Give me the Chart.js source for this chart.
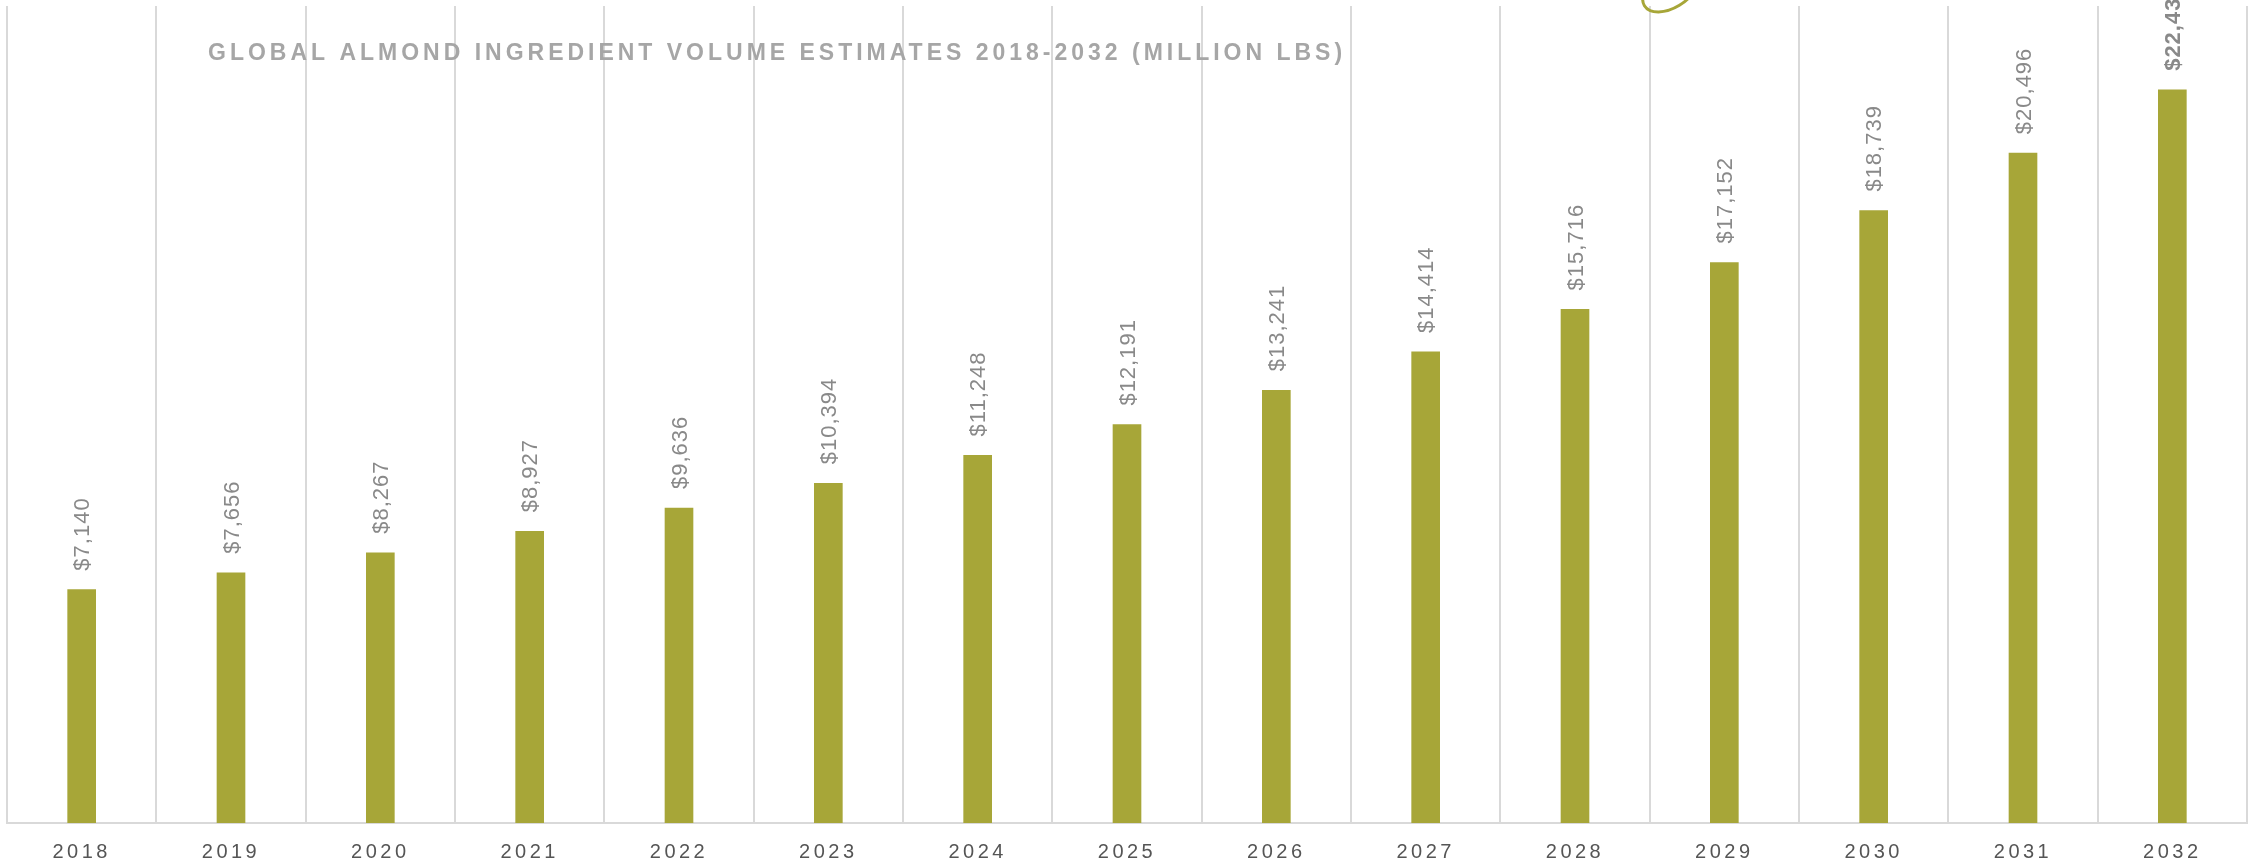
<!DOCTYPE html>
<html>
<head>
<meta charset="utf-8">
<script src="https://cdn.jsdelivr.net/npm/chart.js@4/dist/chart.umd.min.js"></script>
<style>
  html, body { margin: 0; padding: 0; background: #ffffff; }
  #wrap { width: 2259px; height: 865px; position: relative; }
</style>
</head>
<body>
<div id="wrap"><canvas id="chart" width="2259" height="865"></canvas></div>
<script>
// Years on the category axis
const years = ['2018', '2019', '2020', '2021', '2022', '2023', '2024', '2025',
               '2026', '2027', '2028', '2029', '2030', '2031', '2032'];
// Estimated ingredient volume per year (million lbs)
const volumes = [7140, 7656, 8267, 8927, 9636, 10394, 11248, 12191,
                 13241, 14414, 15716, 17152, 18739, 20496, 22434];
// Value axis range
const yRange = [0, 25000];
// Year whose value label is emphasised
const emphasisYears = ['2032'];

const chartTitle = 'GLOBAL ALMOND INGREDIENT VOLUME ESTIMATES 2018-2032 (MILLION LBS)';

const OLIVE = '#a7a638';
const GRID = '#d9d9d9';
const FONT = '"Liberation Sans", Arial, sans-serif';

const fmt = v => '$' + v.toLocaleString('en-US');

const decorations = {
  id: 'decorations',
  beforeDraw(chart) {
    // spaced-out tick labels along the year axis
    chart.ctx.letterSpacing = '3.5px';
  },
  beforeDatasetsDraw(chart) {
    chart.ctx.letterSpacing = '0px';
  },
  afterDatasetsDraw(chart) {
    const ctx = chart.ctx;
    const meta = chart.getDatasetMeta(0);
    ctx.save();
    ctx.fillStyle = '#898989';
    ctx.textAlign = 'left';
    ctx.textBaseline = 'middle';
    ctx.letterSpacing = '1px';
    meta.data.forEach((bar, i) => {
      const bold = emphasisYears.includes(years[i]);
      ctx.font = (bold ? 'bold ' : '') + '22px ' + FONT;
      ctx.save();
      ctx.translate(bar.x + 1.5, bar.y - 19);
      ctx.rotate(-Math.PI / 2);
      ctx.fillText(fmt(volumes[i]), 0, 0);
      ctx.restore();
    });
    ctx.restore();
  },
  afterDraw(chart) {
    const ctx = chart.ctx;
    ctx.save();
    // title, stretched to its tracked width
    ctx.font = 'bold 23px ' + FONT;
    ctx.letterSpacing = '0px';
    const w0 = ctx.measureText(chartTitle).width;
    const spacing = (1134 - w0) / (chartTitle.length - 1);
    ctx.letterSpacing = spacing.toFixed(2) + 'px';
    ctx.fillStyle = '#a6a6a6';
    ctx.textAlign = 'left';
    ctx.textBaseline = 'alphabetic';
    ctx.fillText(chartTitle, 208, 60);
    // olive loop at the top edge
    ctx.letterSpacing = '0px';
    ctx.strokeStyle = OLIVE;
    ctx.lineWidth = 3;
    ctx.beginPath();
    ctx.ellipse(1670, -10, 30, 18, -0.55, 0, Math.PI * 2);
    ctx.stroke();
    ctx.restore();
    ctx.letterSpacing = '0px';
  }
};

new Chart(document.getElementById('chart'), {
  type: 'bar',
  data: {
    labels: years,
    datasets: [{
      data: volumes,
      backgroundColor: OLIVE,
      borderWidth: 0,
      barThickness: 28
    }]
  },
  options: {
    responsive: false,
    animation: false,
    devicePixelRatio: 1,
    layout: { padding: { left: 7, right: 12, top: 6, bottom: 0 } },
    plugins: {
      legend: { display: false },
      tooltip: { enabled: false },
      title: { display: false }
    },
    scales: {
      x: {
        grid: { display: true, offset: true, color: GRID, lineWidth: 2, drawTicks: false },
        border: { display: true, color: GRID, width: 2 },
        ticks: {
          color: '#555555',
          font: { family: FONT, size: 20 },
          padding: 17,
          maxRotation: 0,
          autoSkip: false
        },
        afterFit(scale) { scale.height = 42; }
      },
      y: {
        display: false,
        min: yRange[0],
        max: yRange[1],
        grid: { display: false }
      }
    }
  },
  plugins: [decorations]
});
</script>
</body>
</html>
